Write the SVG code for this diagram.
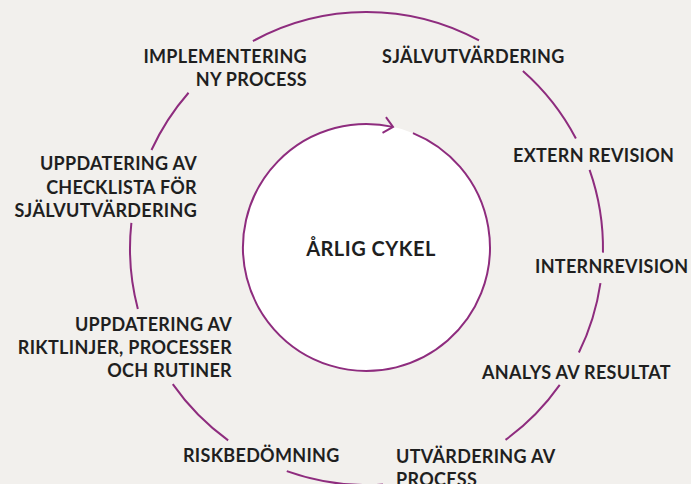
<svg xmlns="http://www.w3.org/2000/svg" width="691" height="484" viewBox="0 0 691 484">
<defs>
<style>
.bg{fill:#f2f0ed}
.ring{fill:none;stroke:#8e2c7e;stroke-width:2}
.t{font-family:Lato,"Open Sans","DejaVu Sans",sans-serif;font-weight:700;font-size:18px;letter-spacing:0.3px;fill:#1f1f1f}
.r{text-anchor:end}
.c{text-anchor:middle}
.big{font-size:20px;letter-spacing:0.5px}
</style>
<marker id="chev" markerUnits="userSpaceOnUse" markerWidth="24" markerHeight="24" refX="12" refY="12" orient="auto" viewBox="0 0 24 24">
<path d="M3,4 L12,12 L3,20" fill="none" stroke="#8e2c7e" stroke-width="2"/>
</marker>
</defs>
<rect class="bg" x="0" y="0" width="691" height="484"/>
<g id="center">
<circle cx="366.5" cy="247.5" r="123.5" fill="#ffffff"/>
<text class="t c big" x="371" y="256">ÅRLIG CYKEL</text>
</g>
<g id="connectors">
<path class="ring" marker-end="url(#chev)" d="M412.96,133.08 A123.5,123.5 0 1 1 393.02,126.88"/>
<path class="ring" d="M252.93,41.07 A236.5,236.5 0 0 1 478.98,40.48"/>
<path class="ring" d="M522.90,71.10 A236.5,236.5 0 0 1 575.90,138.58"/>
<path class="ring" d="M589.57,169.94 A236.5,236.5 0 0 1 602.96,252.63"/>
<path class="ring" d="M600.46,283.05 A236.5,236.5 0 0 1 578.88,352.54"/>
<path class="ring" d="M559.74,384.82 A236.5,236.5 0 0 1 505.51,439.83"/>
<path class="ring" d="M383.01,484.43 A236.5,236.5 0 0 1 286.78,471.17"/>
<path class="ring" d="M228.15,440.33 A236.5,236.5 0 0 1 172.77,384.15"/>
<path class="ring" d="M137.85,308.90 A236.5,236.5 0 0 1 131.38,222.96"/>
<path class="ring" d="M151.48,150.04 A236.5,236.5 0 0 1 188.56,92.72"/>
</g>
<g id="implementering">
<text class="t r" x="307" y="63">IMPLEMENTERING</text>
<text class="t r" x="307" y="86">NY PROCESS</text>
</g>
<g id="sjalvutvardering">
<text class="t" x="382" y="63">SJÄLVUTVÄRDERING</text>
</g>
<g id="extern-revision">
<text class="t" x="513" y="162">EXTERN REVISION</text>
</g>
<g id="internrevision">
<text class="t" x="535" y="273">INTERNREVISION</text>
</g>
<g id="analys">
<text class="t" x="482" y="379">ANALYS AV RESULTAT</text>
</g>
<g id="utvardering">
<text class="t" x="396" y="463">UTVÄRDERING AV</text>
<text class="t" x="396" y="486">PROCESS</text>
</g>
<g id="riskbedomning">
<text class="t" x="183" y="462">RISKBEDÖMNING</text>
</g>
<g id="uppdatering-riktlinjer">
<text class="t r" x="232" y="331">UPPDATERING AV</text>
<text class="t r" x="232" y="354">RIKTLINJER, PROCESSER</text>
<text class="t r" x="232" y="377">OCH RUTINER</text>
</g>
<g id="uppdatering-checklista">
<text class="t r" x="197" y="170">UPPDATERING AV</text>
<text class="t r" x="197" y="194">CHECKLISTA FÖR</text>
<text class="t r" x="197" y="217">SJÄLVUTVÄRDERING</text>
</g>
</svg>
